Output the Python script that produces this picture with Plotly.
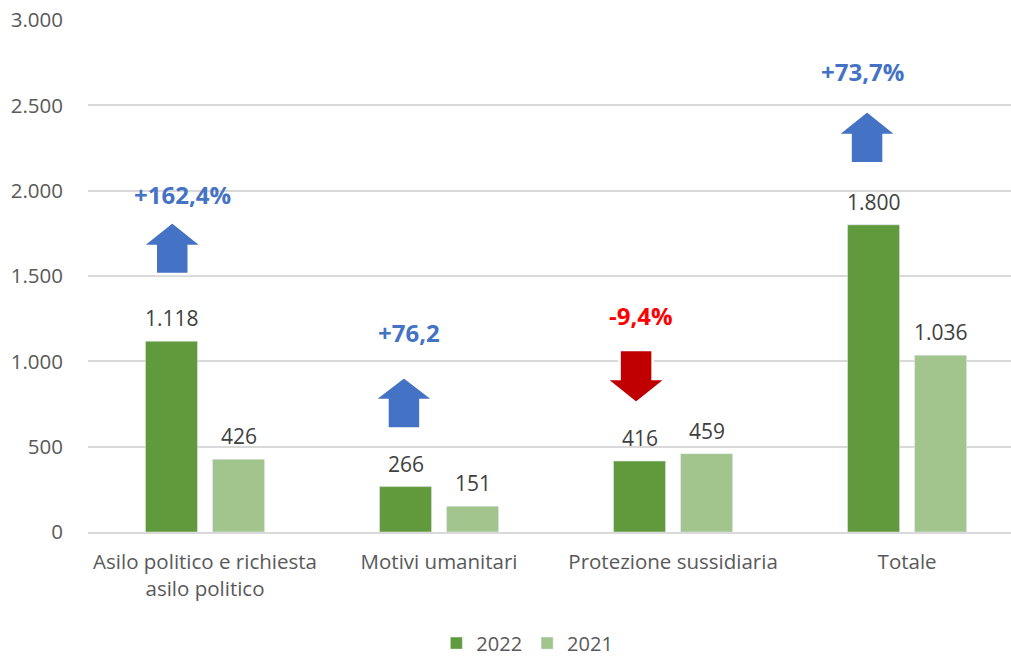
import plotly.graph_objects as go

categories = ["Asilo politico e richiesta<br>asilo politico", "Motivi umanitari",
              "Protezione sussidiaria", "Totale"]
series_names = ["2022", "2021"]
values_2022 = [1118, 266, 416, 1800]
values_2021 = [426, 151, 459, 1036]
pct_labels = ["+162,4%", "+76,2", "-9,4%", "+73,7%"]
pct_up = [True, True, False, True]
y_ticks = [0, 500, 1000, 1500, 2000, 2500, 3000]

# styling / placement (decoration only)
C22 = "#619A3D"
C21 = "#A2C58E"
BLUE = "#4472C4"
RED_T = "#FF0000"
RED_A = "#C00000"
FONT = "Open Sans"
GRAY = "#595959"
bar_off = 0.1432
# arrow: (x offset from category, tip, head base, tail)
arrow_geo = [(-0.140, 1816, 1676, 1512),
             (-0.150, 908, 773, 606),
             (-0.158, 756, 896, 1066),
             (-0.171, 2467, 2326, 2160)]
label_geo = [(-0.098, 1975), (-0.128, 1168), (-0.137, 1271), (-0.192, 2700)]
HEAD_W = 0.256
SHAFT_W = 0.141

x = list(range(len(categories)))

def fmt(v):
    return f"{v:,}".replace(",", ".")

fig = go.Figure()
fig.add_trace(go.Bar(x=x, y=values_2022, name=series_names[0], marker_color=C22))
fig.add_trace(go.Bar(x=x, y=values_2021, name=series_names[1], marker_color=C21))

annotations = []
for i in x:
    for off, vals in ((-bar_off, values_2022), (bar_off, values_2021)):
        annotations.append(dict(x=i + off, y=vals[i], text=fmt(vals[i]), showarrow=False,
                                yshift=23, font=dict(family=FONT, size=21, color="#404040"),
                                xref="x", yref="y"))
    lx, ly = label_geo[i]
    annotations.append(dict(x=i + lx, y=ly, text=f"<b>{pct_labels[i]}</b>", showarrow=False,
                            font=dict(family=FONT, size=24,
                                      color=BLUE if pct_up[i] else RED_T),
                            xref="x", yref="y"))

shapes = []
for i in x:
    off, tip, hb, tail = arrow_geo[i]
    xc = i + off
    h, s = HEAD_W / 2, SHAFT_W / 2
    path = (f"M {xc} {tip} L {xc + h} {hb} L {xc + s} {hb} L {xc + s} {tail} "
            f"L {xc - s} {tail} L {xc - s} {hb} L {xc - h} {hb} Z")
    shapes.append(dict(type="path", path=path, xref="x", yref="y",
                       fillcolor=BLUE if pct_up[i] else RED_A,
                       line=dict(color="white", width=2.5), layer="above"))

fig.update_layout(
    width=1011, height=657,
    margin=dict(l=88, r=0, t=20, b=125, autoexpand=False),
    paper_bgcolor="white", plot_bgcolor="white",
    barmode="group", bargap=0.427, bargroupgap=0.224,
    separators=",.",
    font=dict(family=FONT, size=21, color=GRAY),
    annotations=annotations, shapes=shapes,
    legend=dict(orientation="h", x=0.476, xanchor="center", y=-0.217, yanchor="middle",
                font=dict(family=FONT, size=20, color=GRAY), traceorder="normal",
                itemwidth=30),
    showlegend=True,
)
fig.update_xaxes(range=[-0.5, 3.444], tickmode="array", tickvals=x, ticktext=categories,
                 showgrid=False, zeroline=False, showline=True, linecolor="#D9D9D9",
                 linewidth=1.5, ticks="", ticklabelstandoff=11, automargin=False,
                 tickfont=dict(family=FONT, size=20.5, color=GRAY))
fig.update_yaxes(range=[0, 3000], tickmode="array", tickvals=y_ticks,
                 ticktext=[fmt(v) for v in y_ticks], showgrid=True, gridcolor="#D9D9D9",
                 gridwidth=1.5, zeroline=False, showline=False, ticks="", automargin=False,
                 ticklabelstandoff=24, tickfont=dict(family=FONT, size=20.5, color=GRAY))

fig.write_html("out.html")
